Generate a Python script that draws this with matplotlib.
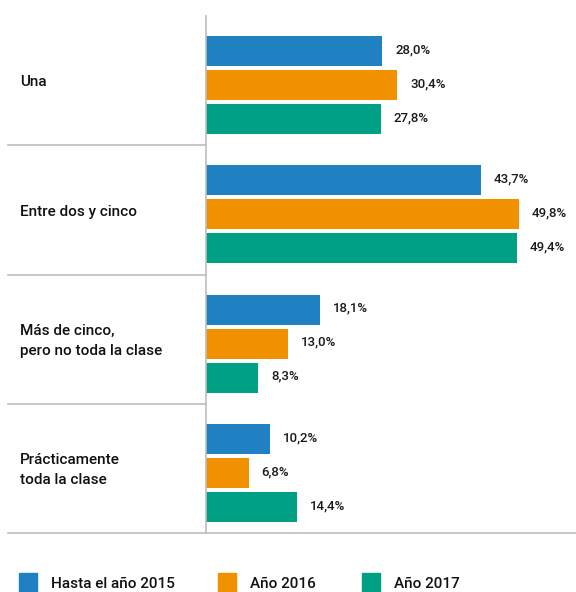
import numpy as np
import matplotlib
matplotlib.use("Agg")
from matplotlib import pyplot as plt
from matplotlib.patches import Rectangle

# Data #
categories = ["Una", "Entre dos y cinco", "Más de cinco,\npero no toda la clase",
              "Prácticamente\ntoda la clase"]
series_names = ["Hasta el año 2015", "Año 2016", "Año 2017"]
values_2015 = [28.0, 43.7, 18.1, 10.2]
values_2016 = [30.4, 49.8, 13.0, 6.8]
values_2017 = [27.8, 49.4, 8.3, 14.4]
colors = ["#1f80c2", "#f29100", "#00a085"]

plt.rcParams['font.family'] = ['Roboto', 'DejaVu Sans']

W, H = 576, 592
fig = plt.figure(figsize=(W / 100, H / 100), dpi=100)
ax_left, ax_top, ax_bottom = 206, 16, 533
ax = fig.add_axes([ax_left / W, 1 - ax_bottom / H, 1 - ax_left / W, (ax_bottom - ax_top) / H])

group_px = (ax_bottom - ax_top) / len(categories)
bar_h = 30 / group_px
step = 34 / group_px
center = 69 / group_px

all_values = [values_2015, values_2016, values_2017]
px_per_unit = 176 / 28.0
ax.set_xlim(0, (W - ax_left) / px_per_unit)
ax.set_ylim(len(categories), 0)

for k, (vals, col) in enumerate(zip(all_values, colors)):
    y = np.arange(len(categories)) + center + (k - 1) * step
    ax.barh(y, vals, height=bar_h, color=col, align='center')
    for yi, v in zip(y, vals):
        ax.text(v + 13 / px_per_unit, yi - 0.01, f"{v:.1f}".replace('.', ',') + "%",
                va='center', ha='left', fontsize=9.5, fontweight='medium', color='#1a1a1a')

# Category labels and separators.
trans = ax.get_yaxis_transform()
x_sep = (8 - ax_left) / (W - ax_left)
for i, cat in enumerate(categories):
    ax.text(x_sep + 12 / (W - ax_left), i + center - 0.02, cat, transform=trans,
            va='center', ha='left', fontsize=11, fontweight='medium',
            color='#111111', linespacing=1.55)
for i in range(1, len(categories)):
    ax.plot([x_sep, 0], [i, i], transform=trans, color='#bdbdbd', lw=1.2, clip_on=False)
ax.plot([x_sep, 1], [len(categories)] * 2, transform=trans, color='#bdbdbd', lw=1.2, clip_on=False)

for s in ['top', 'right', 'bottom']:
    ax.spines[s].set_visible(False)
ax.spines['left'].set_color('#bdbdbd')
ax.spines['left'].set_linewidth(1.2)
ax.set_xticks([])
ax.set_yticks([])

# Legend.
legend_x = [19, 218, 362]
for name, col, lx in zip(series_names, colors, legend_x):
    fig.add_artist(Rectangle((lx / W, 1 - 594 / H), 18 / W, 21 / H,
                             transform=fig.transFigure, color=col, clip_on=False))
    fig.text((lx + 32) / W, 1 - 584 / H, name, va='center', ha='left',
             fontsize=11, fontweight='medium', color='#111111')

fig.savefig("out.png", dpi=100)
